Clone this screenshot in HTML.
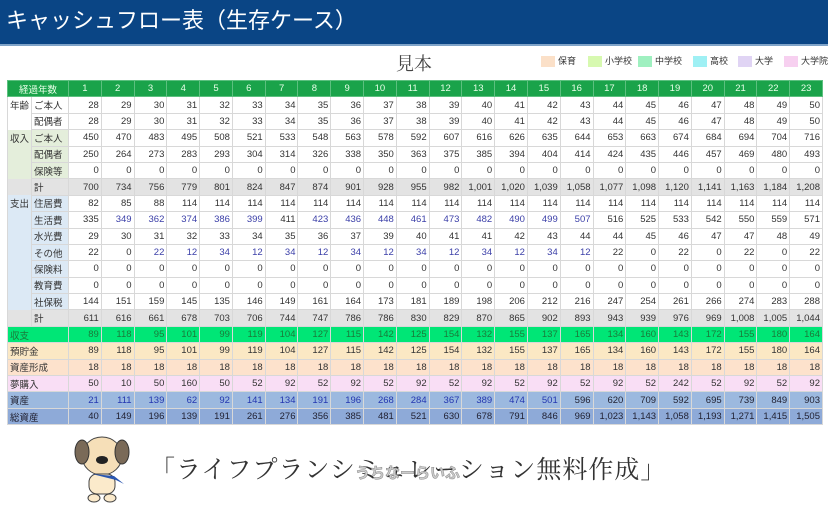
<!DOCTYPE html>
<html><head><meta charset="utf-8"><style>
body{margin:0;width:828px;height:506px;background:#fff;position:relative;overflow:hidden;font-family:"Liberation Sans","Noto Sans CJK JP",sans-serif}
.hdr{position:absolute;left:0;top:0;width:828px;height:46px;background:#0a4585;color:#fff;font-size:22px;line-height:42px;padding-left:6px;box-sizing:border-box;border-bottom:2px solid #7fa3c8}
.mi{position:absolute;left:396px;top:50px;font-size:18px;color:#444;font-family:"Noto Serif CJK SC",serif}
.lg{position:absolute;top:56px;font-size:9px;color:#333;height:11px;line-height:11px;white-space:nowrap}
.lg i{display:inline-block;width:14px;height:11px;vertical-align:top;margin-right:3px}
table{position:absolute;left:7px;top:80px;border-collapse:collapse;table-layout:fixed;width:816px;font-size:9.5px;color:#333}
td{height:16.4px;padding:0 2px;border:1px solid #d8d8d8;text-align:right;white-space:nowrap;overflow:hidden;box-sizing:border-box}
tr.h td{background:#1aa34a;color:#e8ffe8;text-align:center;border-color:#5cc07f}
td.c{text-align:left;border:none;border-left:1px solid #d8d8d8}
td.s{text-align:left}
tr.g td{background:#e3e3e3}
tr.sh td{background:#00e676;color:#1a7a3a}
tr.y td{background:#fbe8c4}
tr.o td{background:#fde2cc}
tr.p td{background:#f9def5}
tr.b td{background:#9cb9df;color:#2336b0}
tr.b2 td{background:#8eaad8;color:#223}
.inc{background:#e4eedb}
.exp{background:#dce9f5}
.u{color:#3b3fa8}
.ft{position:absolute;left:150px;top:450px;font-size:25px;color:#333;font-family:"Noto Serif CJK SC",serif;letter-spacing:1px}
.wm{position:absolute;left:355px;top:462px;font-size:15px;color:#ccc;font-weight:bold;-webkit-text-stroke:0.5px #888}
</style></head><body>
<div class="hdr">キャッシュフロー表（生存ケース）</div>
<div class="mi">見本</div>
<div class="lg" style="left:541px"><i style="background:#fbe0c8"></i>保育</div>
<div class="lg" style="left:588px"><i style="background:#d7f9b0"></i>小学校</div>
<div class="lg" style="left:638px"><i style="background:#9ff0c0"></i>中学校</div>
<div class="lg" style="left:693px"><i style="background:#9ff0f4"></i>高校</div>
<div class="lg" style="left:738px"><i style="background:#e0d4f4"></i>大学</div>
<div class="lg" style="left:784px"><i style="background:#f7d0f0"></i>大学院</div>
<table>
<colgroup><col style="width:24px"><col style="width:37px"><col span="23"></colgroup>
<tr class="h"><td colspan="2" style="text-align:center">経過年数</td><td>1</td><td>2</td><td>3</td><td>4</td><td>5</td><td>6</td><td>7</td><td>8</td><td>9</td><td>10</td><td>11</td><td>12</td><td>13</td><td>14</td><td>15</td><td>16</td><td>17</td><td>18</td><td>19</td><td>20</td><td>21</td><td>22</td><td>23</td></tr>
<tr><td class="c">年齢</td><td class="s">ご本人</td><td>28</td><td>29</td><td>30</td><td>31</td><td>32</td><td>33</td><td>34</td><td>35</td><td>36</td><td>37</td><td>38</td><td>39</td><td>40</td><td>41</td><td>42</td><td>43</td><td>44</td><td>45</td><td>46</td><td>47</td><td>48</td><td>49</td><td>50</td></tr>
<tr><td class="c"></td><td class="s">配偶者</td><td>28</td><td>29</td><td>30</td><td>31</td><td>32</td><td>33</td><td>34</td><td>35</td><td>36</td><td>37</td><td>38</td><td>39</td><td>40</td><td>41</td><td>42</td><td>43</td><td>44</td><td>45</td><td>46</td><td>47</td><td>48</td><td>49</td><td>50</td></tr>
<tr><td class="c inc">収入</td><td class="s inc">ご本人</td><td>450</td><td>470</td><td>483</td><td>495</td><td>508</td><td>521</td><td>533</td><td>548</td><td>563</td><td>578</td><td>592</td><td>607</td><td>616</td><td>626</td><td>635</td><td>644</td><td>653</td><td>663</td><td>674</td><td>684</td><td>694</td><td>704</td><td>716</td></tr>
<tr><td class="c inc"></td><td class="s inc">配偶者</td><td>250</td><td>264</td><td>273</td><td>283</td><td>293</td><td>304</td><td>314</td><td>326</td><td>338</td><td>350</td><td>363</td><td>375</td><td>385</td><td>394</td><td>404</td><td>414</td><td>424</td><td>435</td><td>446</td><td>457</td><td>469</td><td>480</td><td>493</td></tr>
<tr><td class="c inc"></td><td class="s inc">保険等</td><td>0</td><td>0</td><td>0</td><td>0</td><td>0</td><td>0</td><td>0</td><td>0</td><td>0</td><td>0</td><td>0</td><td>0</td><td>0</td><td>0</td><td>0</td><td>0</td><td>0</td><td>0</td><td>0</td><td>0</td><td>0</td><td>0</td><td>0</td></tr>
<tr class="g"><td class="c"></td><td class="s">計</td><td>700</td><td>734</td><td>756</td><td>779</td><td>801</td><td>824</td><td>847</td><td>874</td><td>901</td><td>928</td><td>955</td><td>982</td><td>1,001</td><td>1,020</td><td>1,039</td><td>1,058</td><td>1,077</td><td>1,098</td><td>1,120</td><td>1,141</td><td>1,163</td><td>1,184</td><td>1,208</td></tr>
<tr><td class="c exp">支出</td><td class="s exp">住居費</td><td>82</td><td>85</td><td>88</td><td>114</td><td>114</td><td>114</td><td>114</td><td>114</td><td>114</td><td>114</td><td>114</td><td>114</td><td>114</td><td>114</td><td>114</td><td>114</td><td>114</td><td>114</td><td>114</td><td>114</td><td>114</td><td>114</td><td>114</td></tr>
<tr><td class="c exp"></td><td class="s exp">生活費</td><td>335</td><td class="u">349</td><td class="u">362</td><td class="u">374</td><td class="u">386</td><td class="u">399</td><td>411</td><td class="u">423</td><td class="u">436</td><td class="u">448</td><td class="u">461</td><td class="u">473</td><td class="u">482</td><td class="u">490</td><td class="u">499</td><td class="u">507</td><td>516</td><td>525</td><td>533</td><td>542</td><td>550</td><td>559</td><td>571</td></tr>
<tr><td class="c exp"></td><td class="s exp">水光費</td><td>29</td><td>30</td><td>31</td><td>32</td><td>33</td><td>34</td><td>35</td><td>36</td><td>37</td><td>39</td><td>40</td><td>41</td><td>41</td><td>42</td><td>43</td><td>44</td><td>44</td><td>45</td><td>46</td><td>47</td><td>47</td><td>48</td><td>49</td></tr>
<tr><td class="c exp"></td><td class="s exp">その他</td><td>22</td><td>0</td><td class="u">22</td><td class="u">12</td><td class="u">34</td><td class="u">12</td><td class="u">34</td><td class="u">12</td><td class="u">34</td><td class="u">12</td><td class="u">34</td><td class="u">12</td><td class="u">34</td><td class="u">12</td><td class="u">34</td><td class="u">12</td><td>22</td><td>0</td><td>22</td><td>0</td><td>22</td><td>0</td><td>22</td></tr>
<tr><td class="c exp"></td><td class="s exp">保険料</td><td>0</td><td>0</td><td>0</td><td>0</td><td>0</td><td>0</td><td>0</td><td>0</td><td>0</td><td>0</td><td>0</td><td>0</td><td>0</td><td>0</td><td>0</td><td>0</td><td>0</td><td>0</td><td>0</td><td>0</td><td>0</td><td>0</td><td>0</td></tr>
<tr><td class="c exp"></td><td class="s exp">教育費</td><td>0</td><td>0</td><td>0</td><td>0</td><td>0</td><td>0</td><td>0</td><td>0</td><td>0</td><td>0</td><td>0</td><td>0</td><td>0</td><td>0</td><td>0</td><td>0</td><td>0</td><td>0</td><td>0</td><td>0</td><td>0</td><td>0</td><td>0</td></tr>
<tr><td class="c exp"></td><td class="s exp">社保税</td><td>144</td><td>151</td><td>159</td><td>145</td><td>135</td><td>146</td><td>149</td><td>161</td><td>164</td><td>173</td><td>181</td><td>189</td><td>198</td><td>206</td><td>212</td><td>216</td><td>247</td><td>254</td><td>261</td><td>266</td><td>274</td><td>283</td><td>288</td></tr>
<tr class="g"><td class="c"></td><td class="s">計</td><td>611</td><td>616</td><td>661</td><td>678</td><td>703</td><td>706</td><td>744</td><td>747</td><td>786</td><td>786</td><td>830</td><td>829</td><td>870</td><td>865</td><td>902</td><td>893</td><td>943</td><td>939</td><td>976</td><td>969</td><td>1,008</td><td>1,005</td><td>1,044</td></tr>
<tr class="sh"><td class="s" colspan="2">収支</td><td>89</td><td>118</td><td>95</td><td>101</td><td>99</td><td>119</td><td>104</td><td>127</td><td>115</td><td>142</td><td>125</td><td>154</td><td>132</td><td>155</td><td>137</td><td>165</td><td>134</td><td>160</td><td>143</td><td>172</td><td>155</td><td>180</td><td>164</td></tr>
<tr class="y"><td class="s" colspan="2">預貯金</td><td>89</td><td>118</td><td>95</td><td>101</td><td>99</td><td>119</td><td>104</td><td>127</td><td>115</td><td>142</td><td>125</td><td>154</td><td>132</td><td>155</td><td>137</td><td>165</td><td>134</td><td>160</td><td>143</td><td>172</td><td>155</td><td>180</td><td>164</td></tr>
<tr class="o"><td class="s" colspan="2">資産形成</td><td>18</td><td>18</td><td>18</td><td>18</td><td>18</td><td>18</td><td>18</td><td>18</td><td>18</td><td>18</td><td>18</td><td>18</td><td>18</td><td>18</td><td>18</td><td>18</td><td>18</td><td>18</td><td>18</td><td>18</td><td>18</td><td>18</td><td>18</td></tr>
<tr class="p"><td class="s" colspan="2">夢購入</td><td>50</td><td>10</td><td>50</td><td>160</td><td>50</td><td>52</td><td>92</td><td>52</td><td>92</td><td>52</td><td>92</td><td>52</td><td>92</td><td>52</td><td>92</td><td>52</td><td>92</td><td>52</td><td>242</td><td>52</td><td>92</td><td>52</td><td>92</td></tr>
<tr class="b"><td class="s" colspan="2" style="color:#223">資産</td><td>21</td><td>111</td><td>139</td><td>62</td><td>92</td><td>141</td><td>134</td><td>191</td><td>196</td><td>268</td><td>284</td><td>367</td><td>389</td><td>474</td><td>501</td><td style="color:#223">596</td><td style="color:#223">620</td><td style="color:#223">709</td><td style="color:#223">592</td><td style="color:#223">695</td><td style="color:#223">739</td><td style="color:#223">849</td><td style="color:#223">903</td></tr>
<tr class="b2"><td class="s" colspan="2">総資産</td><td>40</td><td>149</td><td>196</td><td>139</td><td>191</td><td>261</td><td>276</td><td>356</td><td>385</td><td>481</td><td>521</td><td>630</td><td>678</td><td>791</td><td>846</td><td>969</td><td>1,023</td><td>1,143</td><td>1,058</td><td>1,193</td><td>1,271</td><td>1,415</td><td>1,505</td></tr>
</table>
<svg style="position:absolute;left:74px;top:432px" width="56" height="72" viewBox="0 0 56 72">
<ellipse cx="28" cy="24" rx="20" ry="19" fill="#f6dfb8" stroke="#444"/>
<ellipse cx="8" cy="20" rx="7" ry="12" fill="#7a6a58" stroke="#333"/>
<ellipse cx="48" cy="20" rx="7" ry="12" fill="#7a6a58" stroke="#333"/>
<ellipse cx="28" cy="28" rx="6" ry="4" fill="#222"/>
<rect x="15" y="42" width="26" height="20" rx="8" fill="#fbeacb" stroke="#444"/>
<path d="M18 42 L40 44 L50 52 L42 48 Z" fill="#2a56b0"/>
<ellipse cx="20" cy="66" rx="6" ry="4" fill="#fbeacb" stroke="#444"/>
<ellipse cx="36" cy="66" rx="6" ry="4" fill="#fbeacb" stroke="#444"/>
</svg>
<div class="ft">「ライフプランシミュレーション無料作成」</div>
<div class="wm">うちなーらいふ</div>
</body></html>
